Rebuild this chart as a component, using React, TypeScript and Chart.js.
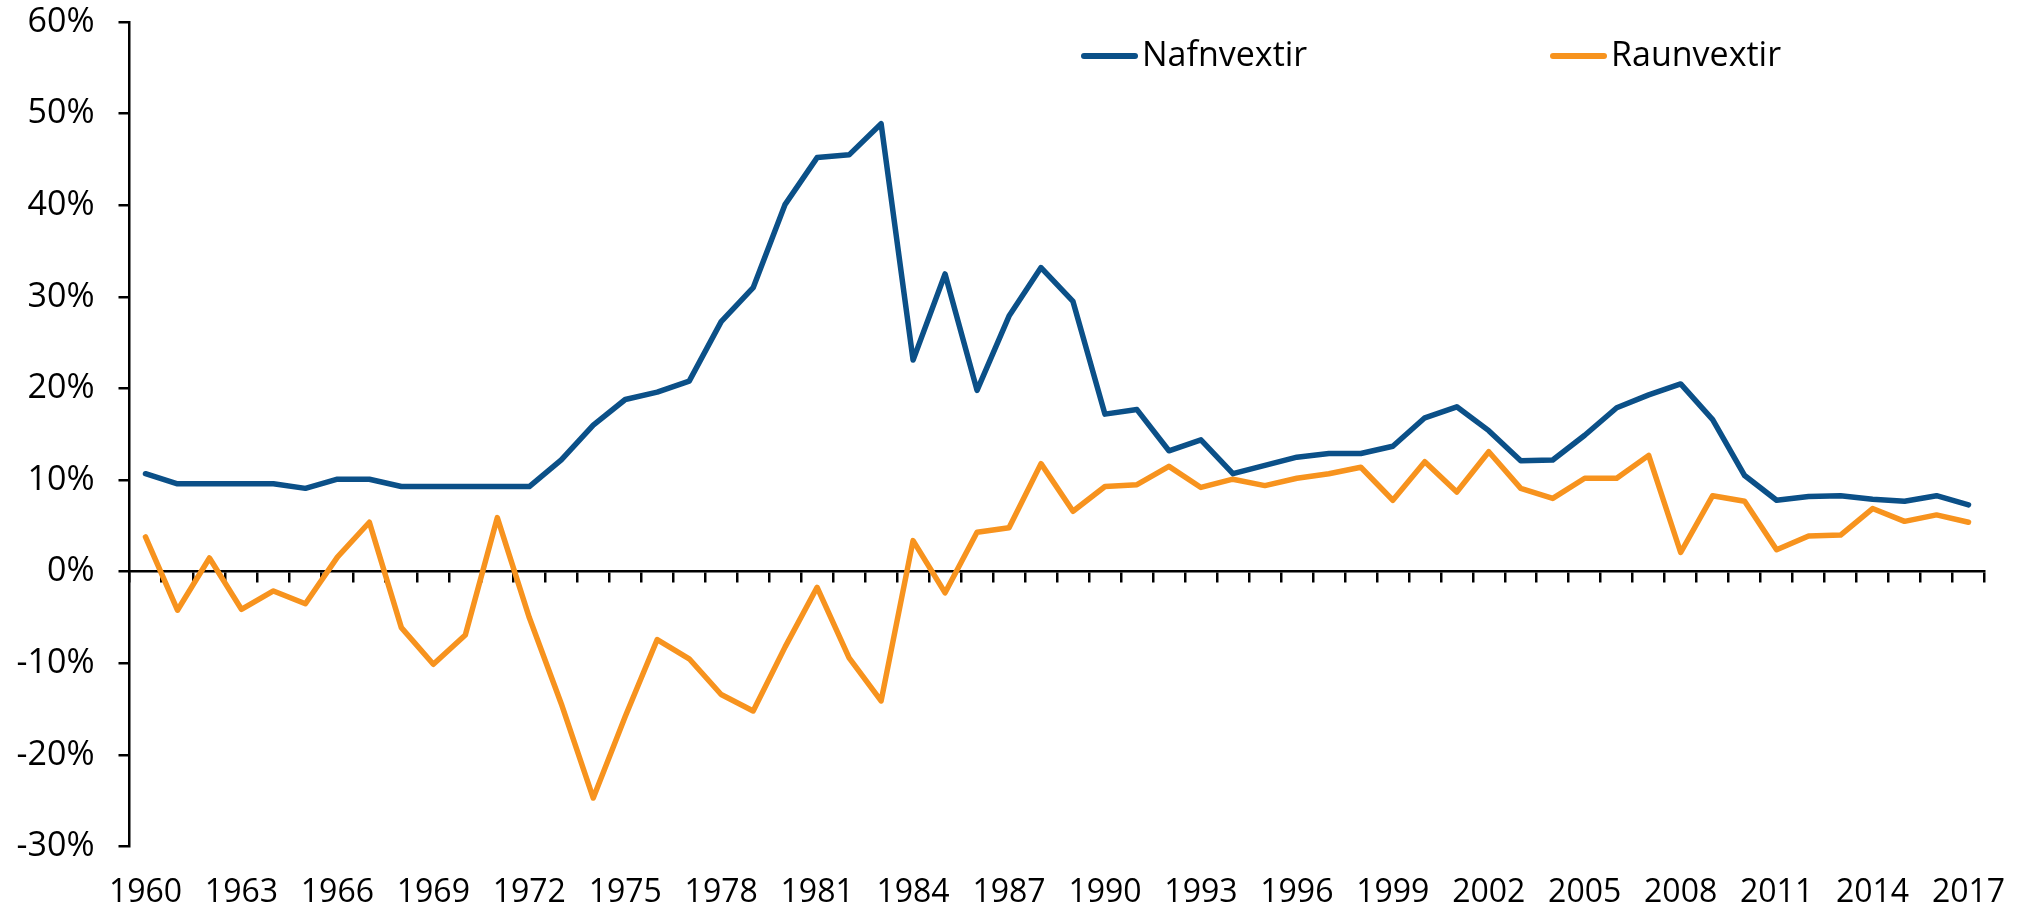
import React, { useEffect, useRef } from "react";
import { Chart, registerables } from "chart.js";

Chart.register(...registerables);

const years: string[] = [
  "1960","1961","1962","1963","1964","1965","1966","1967","1968","1969",
  "1970","1971","1972","1973","1974","1975","1976","1977","1978","1979",
  "1980","1981","1982","1983","1984","1985","1986","1987","1988","1989",
  "1990","1991","1992","1993","1994","1995","1996","1997","1998","1999",
  "2000","2001","2002","2003","2004","2005","2006","2007","2008","2009",
  "2010","2011","2012","2013","2014","2015","2016","2017",
];

const nafnvextir: number[] = [
  10.7, 9.6, 9.6, 9.6, 9.6, 9.1, 10.1, 10.1, 9.3, 9.3,
  9.3, 9.3, 9.3, 12.2, 16.0, 18.8, 19.6, 20.8, 27.3, 31.0,
  40.1, 45.2, 45.5, 48.9, 23.1, 32.5, 19.8, 27.9, 33.2, 29.5,
  17.2, 17.7, 13.2, 14.4, 10.7, 11.6, 12.5, 12.9, 12.9, 13.7,
  16.8, 18.0, 15.4, 12.1, 12.2, 14.9, 17.9, 19.3, 20.5, 16.6,
  10.5, 7.8, 8.2, 8.3, 7.9, 7.7, 8.3, 7.3,
];

const raunvextir: number[] = [
  3.8, -4.2, 1.5, -4.1, -2.1, -3.5, 1.6, 5.4, -6.1, -10.1,
  -6.9, 5.9, -5.0, -14.4, -24.7, -15.8, -7.4, -9.5, -13.4, -15.2,
  -8.2, -1.7, -9.4, -14.1, 3.4, -2.3, 4.3, 4.8, 11.8, 6.6,
  9.3, 9.5, 11.5, 9.2, 10.1, 9.4, 10.2, 10.7, 11.4, 7.8,
  12.0, 8.7, 13.1, 9.1, 8.0, 10.2, 10.2, 12.7, 2.1, 8.3,
  7.7, 2.4, 3.9, 4.0, 6.9, 5.5, 6.2, 5.4,
];

const seriesLabels: string[] = ["Nafnvextir", "Raunvextir"];
const seriesColors: string[] = ["#0B5088", "#F7931E"];

const yMin = -30;
const yMax = 60;
const yStep = 10;

const FONT = '"Open Sans", "DejaVu Sans", sans-serif';

const lineLegend = {
  id: "lineLegend",
  afterDraw(chart: any, _args: any, opts: any) {
    const { ctx } = chart;
    chart.data.datasets.forEach((ds: any, i: number) => {
      const x = opts.x[i];
      const y = opts.y;
      ctx.save();
      ctx.strokeStyle = ds.borderColor;
      ctx.lineWidth = opts.lineWidth;
      ctx.lineCap = "round";
      ctx.beginPath();
      ctx.moveTo(x, y);
      ctx.lineTo(x + opts.lineLength, y);
      ctx.stroke();
      ctx.fillStyle = "#000";
      ctx.font = `${opts.fontSize}px ${FONT}`;
      ctx.textBaseline = "middle";
      ctx.textAlign = "left";
      ctx.fillText(ds.label, x + opts.lineLength + opts.gap, y);
      ctx.restore();
    });
  },
};

export default function App() {
  const ref = useRef<HTMLCanvasElement | null>(null);

  useEffect(() => {
    if (!ref.current) return;
    const chart = new Chart(ref.current, {
      type: "line",
      data: {
        labels: years,
        datasets: [
          {
            label: seriesLabels[0],
            data: nafnvextir,
            borderColor: seriesColors[0],
            backgroundColor: seriesColors[0],
            borderWidth: 5.5,
            pointRadius: 0,
            borderCapStyle: "round",
            borderJoinStyle: "round",
            tension: 0,
          },
          {
            label: seriesLabels[1],
            data: raunvextir,
            borderColor: seriesColors[1],
            backgroundColor: seriesColors[1],
            borderWidth: 5.5,
            pointRadius: 0,
            borderCapStyle: "round",
            borderJoinStyle: "round",
            tension: 0,
          },
        ],
      },
      options: {
        responsive: false,
        animation: false,
        layout: { padding: { top: 22, right: 38.5, left: 0, bottom: 0 } },
        plugins: {
          legend: { display: false },
          tooltip: { enabled: false },
          lineLegend: {
            x: [1084, 1553],
            y: 56,
            lineLength: 51,
            lineWidth: 6,
            gap: 7,
            fontSize: 34,
          },
        } as any,
        scales: {
          x: {
            type: "category",
            position: "bottom",
            offset: true,
            grid: { display: false, drawTicks: false },
            border: { display: false },
            ticks: {
              autoSkip: false,
              maxRotation: 0,
              minRotation: 0,
              padding: 27.5,
              color: "#000",
              font: { family: FONT, size: 32 },
              callback: (_v: any, i: number) => (i % 3 === 0 ? years[i] : ""),
            },
            afterFit: (s: any) => {
              s.height = 64.4;
              s.paddingLeft = 0;
              s.paddingRight = 0;
            },
          },
          x2: {
            type: "category",
            position: { y: 0 },
            offset: true,
            grid: {
              display: true,
              offset: true,
              drawOnChartArea: false,
              drawTicks: true,
              tickLength: 10,
              color: "#000",
              lineWidth: 2.5,
            },
            border: { display: true, color: "#000", width: 2.5 },
            ticks: { display: false, autoSkip: false },
            afterFit: (s: any) => {
              s.paddingLeft = 0;
              s.paddingRight = 0;
            },
          },
          y: {
            type: "linear",
            position: "left",
            min: yMin,
            max: yMax,
            grid: {
              display: true,
              drawOnChartArea: false,
              drawTicks: true,
              tickLength: 11,
              color: "#000",
              lineWidth: 2.5,
            },
            border: { display: true, color: "#000", width: 2.5 },
            ticks: {
              stepSize: yStep,
              padding: 24,
              color: "#000",
              font: { family: FONT, size: 34 },
              callback: (v: any) => `${v}%`,
            },
            afterFit: (s: any) => {
              s.width = 129.5;
              s.paddingTop = 0;
              s.paddingBottom = 0;
            },
          },
        } as any,
      },
      plugins: [lineLegend],
    });
    return () => chart.destroy();
  }, []);

  return (
    <div style={{ position: "absolute", left: 0, top: 0, width: 2023, height: 911, background: "#fff" }}>
      <canvas ref={ref} width={2023} height={911} style={{ display: "block" }} />
    </div>
  );
}
